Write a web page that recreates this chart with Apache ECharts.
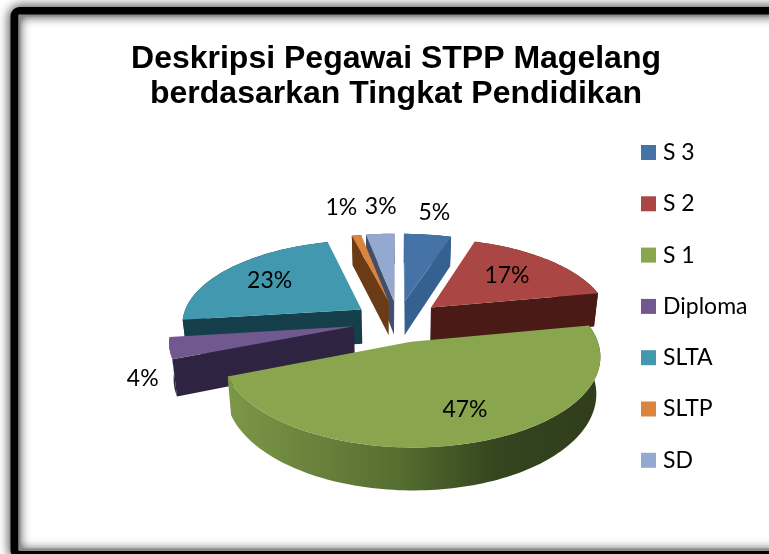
<!DOCTYPE html>
<html>
<head>
<meta charset="utf-8">
<style>
html,body{margin:0;padding:0;background:#fff;overflow:hidden;}
#chart{width:769px;height:554px;}
</style>
<script src="https://cdn.jsdelivr.net/npm/echarts@6/dist/echarts.min.js"></script>
</head>
<body>
<div id="chart"></div>
<script>
var categories = ['S 3','S 2','S 1','Diploma','SLTA','SLTP','SD'];
var percents = [5,17,47,4,23,1,3];

var topColors = ['#4572a7','#aa4643','#89a54e','#71588f','#4198af','#db843d','#93a9cf'];
var wallColors = ['#36608f','#4a1a16','#55702f','#2e2340','#143f4b','#6b3b15','#434f68'];

// how the tilted pie is projected
var cx = 398, cy = 321, R = 180, Ry = 83, k = 0.15, depth = 35, explode = 0.25;
// label: radius on the slice, then nudge in px
var labelPos = [[1.35,0,-2],[0.68,-6,1],[0.62,17,9],[1.2,12,26],[0.68,0,0],[1.3,-7,-11],[1.3,4,-10]];

var total = percents.reduce(function (a, b) { return a + b; }, 0);

function project(u, v, drop) {
    var p = 1 / (1 + k * v);
    return [cx + R * u * p * (1 - 0.02 * drop), cy - Ry * v * p + drop * depth * p];
}

function slicePoint(mid, ang, r, drop) {
    return project(
        explode * Math.sin(mid) + r * Math.sin(ang),
        explode * Math.cos(mid) + r * Math.cos(ang),
        drop
    );
}

function renderSlice(index) {
    return function (params, api) {
        var before = 0;
        for (var i = 0; i < index; i++) before += percents[i];
        var a1 = before / total * Math.PI * 2;
        var a2 = (before + api.value(0)) / total * Math.PI * 2;
        var mid = (a1 + a2) / 2;
        var steps = Math.max(4, Math.round((a2 - a1) * 40));
        var arcTop = [], arcBottom = [];
        for (var s = 0; s <= steps; s++) {
            var a = a1 + (a2 - a1) * s / steps;
            arcTop.push(slicePoint(mid, a, 1, 0));
            arcBottom.push(slicePoint(mid, a, 1, 1));
        }
        var apexTop = slicePoint(mid, 0, 0, 0);
        var apexBottom = slicePoint(mid, 0, 0, 1);
        var children = [];
        var wall = wallColors[index];
        var outerFill = wall;
        if (index === 2) {
            outerFill = new echarts.graphic.LinearGradient(0, 0, 1, 0, [
                {offset: 0, color: '#7d9748'},
                {offset: 0.45, color: '#566f31'},
                {offset: 0.72, color: '#35451f'},
                {offset: 1, color: '#303d1c'}
            ]);
        }
        children.push({
            type: 'polygon',
            shape: {points: arcTop.concat(arcBottom.slice().reverse())},
            style: {fill: outerFill}
        });
        // radial walls, only the ones turned to the viewer
        var first = arcTop[0], last = arcTop[steps];
        if (first[0] < apexTop[0]) {
            children.push({
                type: 'polygon',
                shape: {points: [apexTop, first, arcBottom[0], apexBottom]},
                style: {fill: wall}
            });
        }
        if (last[0] > apexTop[0]) {
            children.push({
                type: 'polygon',
                shape: {points: [apexTop, last, arcBottom[steps], apexBottom]},
                style: {fill: wall}
            });
        }
        children.push({
            type: 'polygon',
            shape: {points: [apexTop].concat(arcTop)},
            style: {fill: topColors[index]}
        });
        var lp = labelPos[index];
        var at = slicePoint(mid, mid, lp[0], 0);
        children.push({
            type: 'text',
            x: at[0] + lp[1],
            y: at[1] + lp[2],
            style: {
                text: api.value(0) + '%',
                fill: '#000',
                font: '23px Lato',
                align: 'center',
                verticalAlign: 'middle'
            }
        });
        return {type: 'group', children: children};
    };
}

// far slices first so the near ones paint over them
var depthOrder = [6,0,5,1,4,3,2];

var series = categories.map(function (name, i) {
    return {
        type: 'custom',
        name: name,
        coordinateSystem: 'none',
        z: 2 + depthOrder.indexOf(i),
        silent: true,
        animation: false,
        renderItem: renderSlice(i),
        data: [[percents[i]]]
    };
});

var chart = echarts.init(document.getElementById('chart'), null, {renderer: 'canvas'});
chart.setOption({
    animation: false,
    color: topColors,
    title: {
        text: 'Deskripsi Pegawai STPP Magelang\nberdasarkan Tingkat Pendidikan',
        left: 396,
        top: 42,
        padding: 0,
        textAlign: 'center',
        textStyle: {
            fontFamily: 'Liberation Sans',
            fontWeight: 'bold',
            fontSize: 32,
            lineHeight: 35,
            color: '#000'
        }
    },
    legend: {
        orient: 'vertical',
        left: 641,
        top: 141,
        padding: 0,
        icon: 'rect',
        itemWidth: 15,
        itemHeight: 15,
        itemGap: 28.3,
        data: categories,
        selectedMode: false,
        textStyle: {fontFamily: 'Lato', fontSize: 23, lineHeight: 23, color: '#000', padding: [0,0,0,2]}
    },
    graphic: [
        {
            type: 'rect',
            z: 0,
            silent: true,
            shape: {x: 14.5, y: 11, width: 800, height: 544, r: 5},
            style: {fill: 'none', stroke: '#000', lineWidth: 8, shadowBlur: 12, shadowColor: '#000'}
        },
        {
            type: 'rect',
            z: 0,
            silent: true,
            shape: {x: 19.5, y: 15.5, width: 800, height: 534},
            style: {fill: 'none', stroke: '#8a8a8a', lineWidth: 2}
        }
    ],
    series: series
});
</script>
</body>
</html>
